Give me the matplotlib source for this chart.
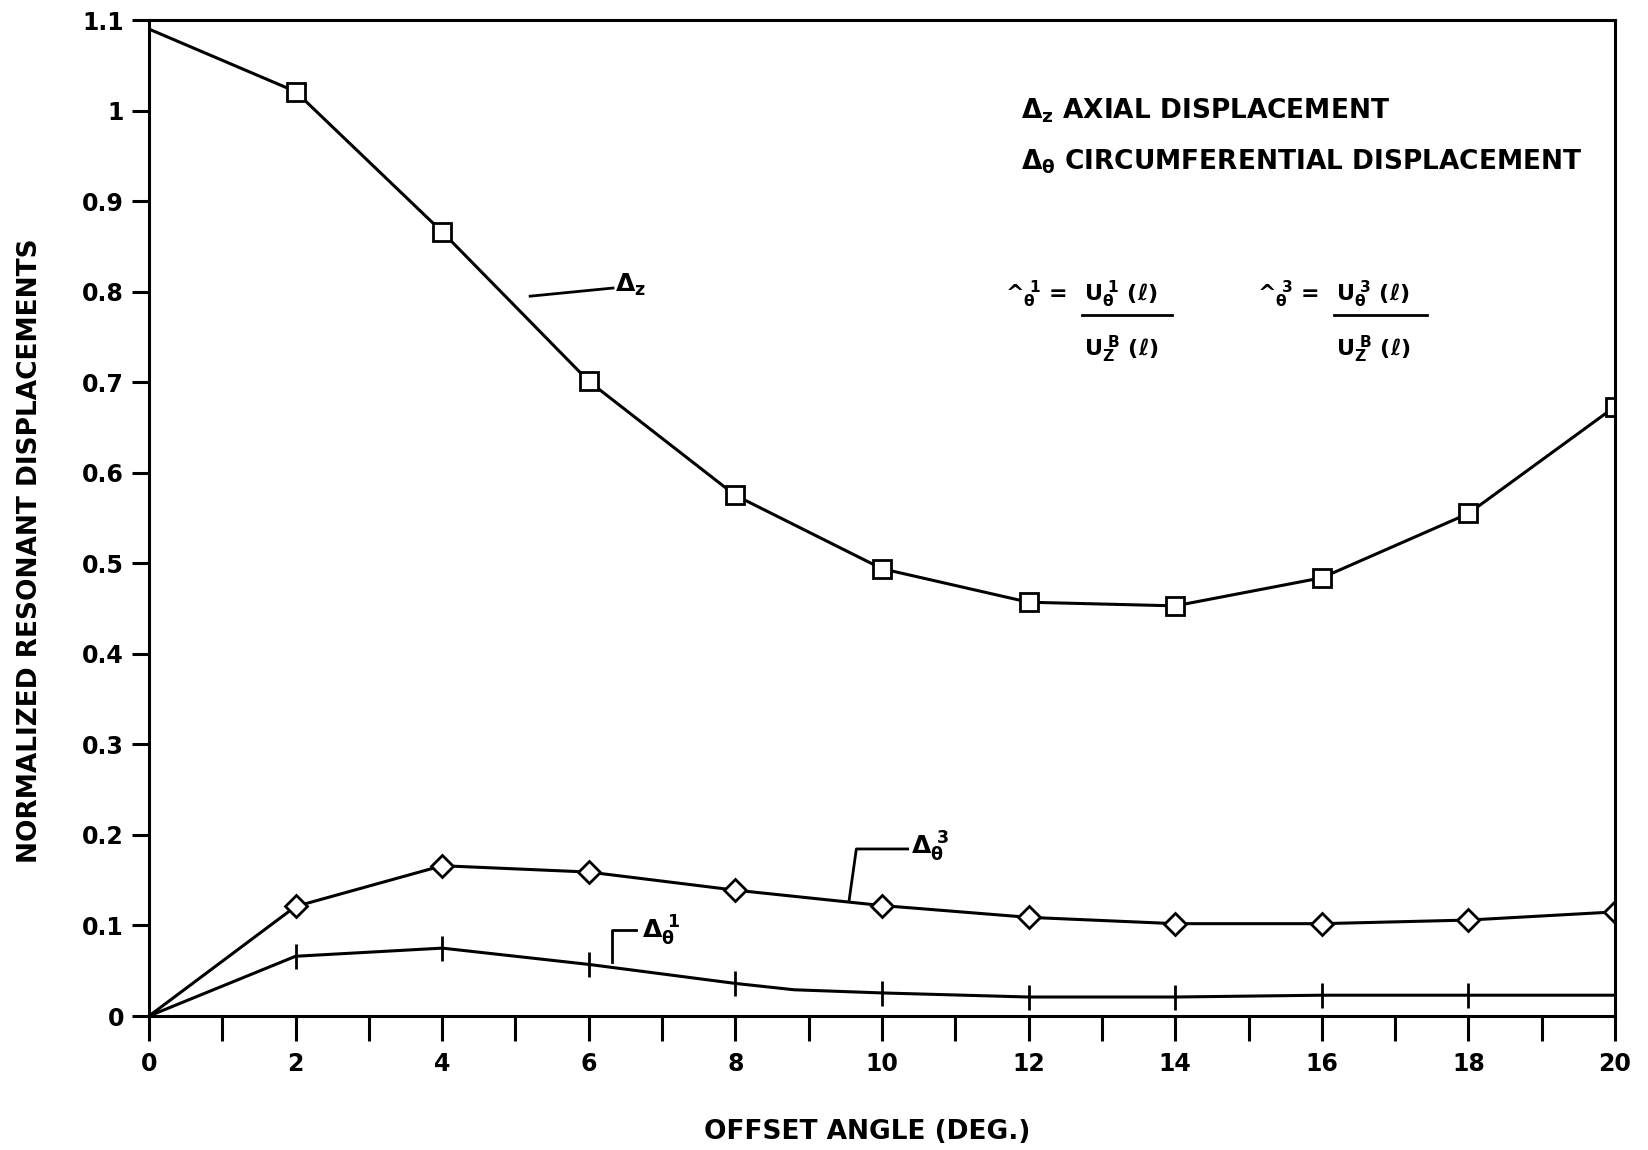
import numpy as np
import matplotlib.pyplot as plt

plt.rcParams['font.family'] = ['DejaVu Sans']
plt.rcParams['font.weight'] = 'heavy'
plt.rcParams['mathtext.fontset'] = 'dejavusans'
plt.rcParams['mathtext.default'] = 'bf'

# offset angle (deg.)
angle = [0, 2, 4, 6, 8, 10, 12, 14, 16, 18, 20]

# axial displacement
delta_z = [1.09, 1.021, 0.866, 0.701, 0.575, 0.494, 0.457, 0.453, 0.484, 0.555, 0.673]

# circumferential displacement, mode 3
delta_t3 = [0.0, 0.121, 0.166, 0.159, 0.139, 0.122, 0.109, 0.102, 0.102, 0.106, 0.115]

# circumferential displacement, mode 1 (line has a kink near 8.8 deg)
angle_t1 = [0, 2, 4, 6, 8, 8.8, 10, 12, 14, 16, 18, 20]
delta_t1 = [0.0, 0.066, 0.075, 0.057, 0.036, 0.029, 0.0255, 0.021, 0.021, 0.023, 0.023, 0.023]
t1_marked = [1, 2, 3, 4, 6, 7, 8, 9, 10, 11]

yticks = [0, 0.1, 0.2, 0.3, 0.4, 0.5, 0.6, 0.7, 0.8, 0.9, 1, 1.1]
ylabels = ['0', '0.1', '0.2', '0.3', '0.4', '0.5', '0.6', '0.7', '0.8', '0.9', '1', '1.1']

fig = plt.figure(figsize=(16.48, 11.5), dpi=100)
ax = fig.add_axes([0.0904, 0.1165, 0.8896, 0.8661])

# the three curves (no markers at the origin)
ax.plot(angle, delta_z, color='black', lw=2.2, marker='s', ms=13,
        mfc='white', mec='black', mew=2, markevery=list(range(1, 11)))
ax.plot(angle, delta_t3, color='black', lw=2.2, marker='D', ms=11,
        mfc='white', mec='black', mew=2, markevery=list(range(1, 11)))
ax.plot(angle_t1, delta_t1, color='black', lw=2.2, marker='|', ms=18,
        mec='black', mew=2, markevery=t1_marked)

ax.set_xlim(0, 20)
ax.set_ylim(0, 1.1)
ax.set_xticks(range(0, 21, 2))
ax.set_xticks(range(1, 20, 2), minor=True)
ax.set_yticks(yticks)
ax.set_yticklabels(ylabels)
ax.tick_params(axis='both', direction='out', width=2.2, labelsize=17, color='black')
ax.tick_params(axis='x', which='major', length=18, pad=8)
ax.tick_params(axis='x', which='minor', length=18, width=2.2)
ax.tick_params(axis='y', length=12, pad=6)
for sp in ax.spines.values():
    sp.set_linewidth(2.2)

ax.set_xlabel('OFFSET ANGLE (DEG.)', fontsize=19, fontweight='heavy')
ax.xaxis.set_label_coords(0.49, -0.103)
ax.set_ylabel('NORMALIZED RESONANT DISPLACEMENTS', fontsize=19, fontweight='heavy')
ax.yaxis.set_label_coords(-0.072, 0.467)

# legend text
ax.text(11.9, 1.0, r'$\Delta_z$ AXIAL DISPLACEMENT', fontsize=19, va='center')
ax.text(11.9, 0.943, r'$\Delta_\theta$ CIRCUMFERENTIAL DISPLACEMENT', fontsize=19, va='center')

# formulas
ax.text(11.68, 0.797, r'^$_\theta^{\ 1}$ =', fontsize=16, ha='left', va='center')
ax.text(12.75, 0.797, r'$U_\theta^{\ 1}$ ($\ell$)', fontsize=16, ha='left', va='center')
ax.plot([12.73, 13.95], [0.774, 0.774], color='black', lw=2)
ax.text(12.75, 0.736, r'$U_Z^{\ B}$ ($\ell$)', fontsize=16, ha='left', va='center')

ax.text(15.12, 0.797, r'^$_\theta^{\ 3}$ =', fontsize=16, ha='left', va='center')
ax.text(16.19, 0.797, r'$U_\theta^{\ 3}$ ($\ell$)', fontsize=16, ha='left', va='center')
ax.plot([16.17, 17.43], [0.774, 0.774], color='black', lw=2)
ax.text(16.19, 0.736, r'$U_Z^{\ B}$ ($\ell$)', fontsize=16, ha='left', va='center')

# curve labels with leader lines
ax.plot([5.2, 6.33], [0.795, 0.804], color='black', lw=2)
ax.text(6.36, 0.808, r'$\Delta_z$', fontsize=18, va='center')

ax.plot([9.55, 9.65, 10.35], [0.127, 0.1845, 0.1845], color='black', lw=2)
ax.text(10.4, 0.187, r'$\Delta_\theta^{\ 3}$', fontsize=18, va='center')

ax.plot([6.32, 6.32, 6.64], [0.060, 0.095, 0.095], color='black', lw=2)
ax.text(6.72, 0.094, r'$\Delta_\theta^{\ 1}$', fontsize=18, va='center')

plt.savefig('out.png', dpi=100)
